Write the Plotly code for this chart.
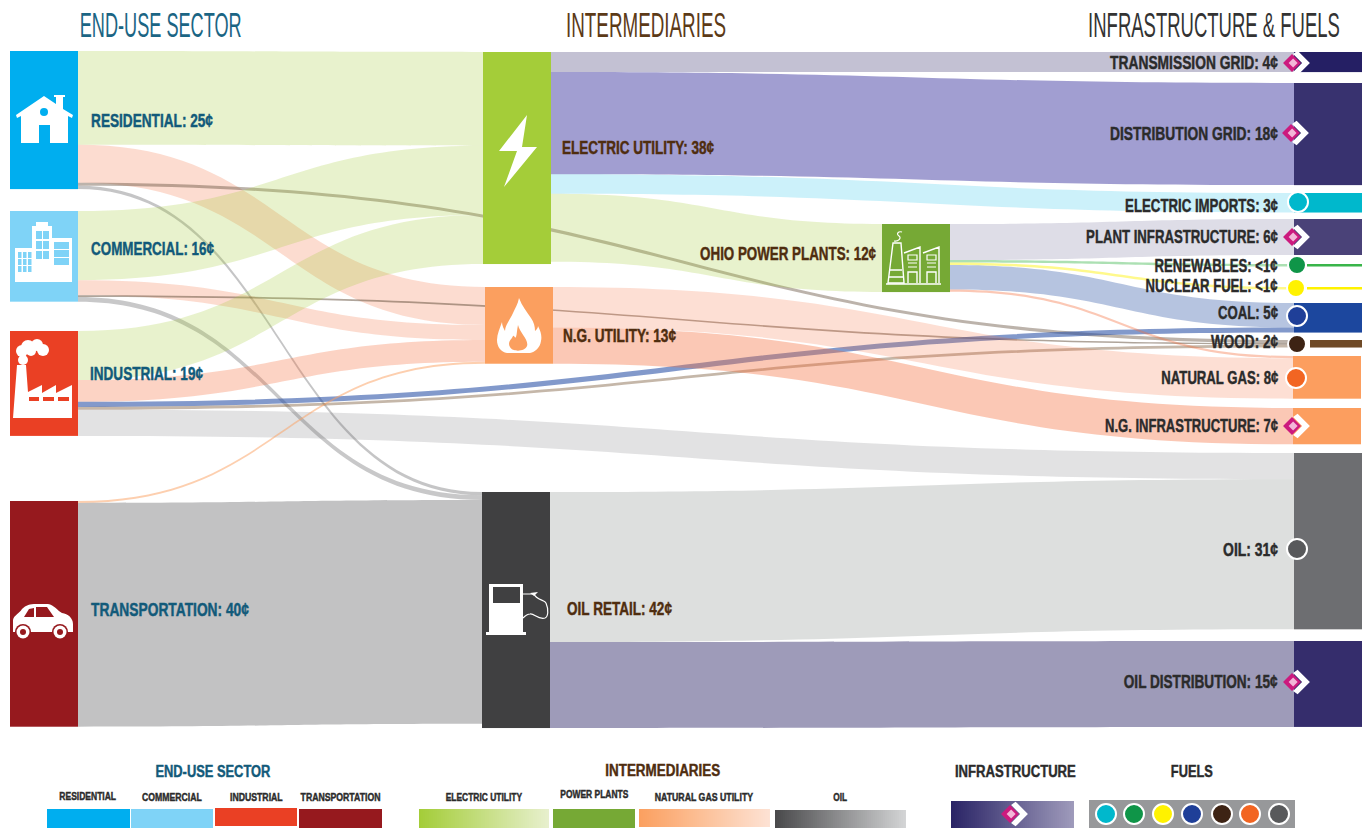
import re
import json
import plotly.graph_objects as go

W, H = 1369, 828
KY = 5.58            # pixels per cent
THICK = 68

node_names = ["Residential", "Commercial", "Industrial", "Transportation",
              "Electric Utility", "N.G. Utility", "Oil Retail", "Ohio Power Plants",
              "Transmission Grid", "Distribution Grid", "Electric Imports", "Plant Infrastructure",
              "Renewables", "Nuclear Fuel", "Coal", "Wood", "Natural Gas", "N.G. Infrastructure",
              "Oil", "Oil Distribution"]
node_colors = ["#00aeef", "#7fd3f7", "#ea4024", "#96191e",
               "#a4cd39", "#fb9f5f", "#404041", "#76a935",
               "#251f64", "#38326f", "#00b8cc", "#4a4278",
               "#39b54a", "#fff200", "#1c479e", "#6f4a27", "#fc9e5f", "#fc9e5f",
               "#6d6e71", "#352d6c"]
node_left = [10, 10, 10, 10, 483, 485, 482, 882,
             1294, 1294, 1294, 1294, 1294, 1294, 1294, 1294, 1293, 1293, 1294, 1294]
node_top = [51, 211, 331, 501, 52, 287, 492, 224,
            52, 83, 193, 219, 264, 287, 303, 340, 356, 408, 453, 641]

GREEN = "rgba(164,205,57,0.25)"
RED = "rgba(244,110,60,0.24)"
link_source = ["Residential", "Residential", "Residential", "Residential",
               "Commercial", "Commercial", "Commercial", "Commercial",
               "Industrial", "Industrial", "Industrial", "Industrial", "Industrial",
               "Transportation", "Transportation",
               "Electric Utility", "Electric Utility", "Electric Utility", "Electric Utility",
               "Ohio Power Plants", "Ohio Power Plants", "Ohio Power Plants", "Ohio Power Plants", "Ohio Power Plants",
               "N.G. Utility", "N.G. Utility", "Oil Retail", "Oil Retail"]
link_target = ["Electric Utility", "N.G. Utility", "Wood", "Oil Retail",
               "Electric Utility", "N.G. Utility", "Wood", "Oil Retail",
               "Electric Utility", "N.G. Utility", "Coal", "Wood", "Oil",
               "N.G. Utility", "Oil Retail",
               "Transmission Grid", "Distribution Grid", "Electric Imports", "Ohio Power Plants",
               "Plant Infrastructure", "Renewables", "Nuclear Fuel", "Coal", "Natural Gas",
               "Natural Gas", "N.G. Infrastructure", "Oil", "Oil Distribution"]
link_value = [16.8, 6.8, 0.55, 0.6,
              12.4, 2.7, 0.3, 0.85,
              8.8, 3.9, 0.9, 0.5, 4.7,
              0.35, 40.1,
              3.6, 18.3, 3.5, 12.2,
              6.45, 0.45, 0.45, 4.4, 0.4,
              7.25, 6.5, 26.9, 15.4]
link_colors = [GREEN, RED, "rgba(95,75,55,0.42)", "rgba(110,110,113,0.4)",
               GREEN, RED, "rgba(95,75,55,0.5)", "rgba(110,110,113,0.38)",
               GREEN, "rgba(244,110,60,0.3)", "rgba(40,80,165,0.58)", "rgba(110,75,40,0.4)", "rgba(109,110,113,0.2)",
               "rgba(251,159,95,0.5)", "rgba(109,110,113,0.42)",
               "rgba(74,66,120,0.33)", "rgba(40,35,150,0.44)", "rgba(0,184,230,0.2)", GREEN,
               "rgba(74,66,120,0.18)", "rgba(57,181,74,0.42)", "rgba(255,242,0,0.45)", "rgba(28,71,158,0.32)", "rgba(244,110,60,0.38)",
               "rgba(244,110,60,0.22)", "rgba(244,110,60,0.38)", "rgba(109,115,113,0.23)", "rgba(53,45,108,0.48)"]

labels_end = ["RESIDENTIAL: 25¢", "COMMERCIAL: 16¢", "INDUSTRIAL: 19¢", "TRANSPORTATION: 40¢"]
labels_mid = ["ELECTRIC UTILITY: 38¢", "N.G. UTILITY: 13¢", "OIL RETAIL: 42¢", "OHIO POWER PLANTS: 12¢"]
labels_right = ["TRANSMISSION GRID: 4¢", "DISTRIBUTION GRID: 18¢", "ELECTRIC IMPORTS: 3¢", "PLANT INFRASTRUCTURE: 6¢",
                "RENEWABLES: <1¢", "NUCLEAR FUEL: <1¢", "COAL: 5¢", "WOOD: 2¢", "NATURAL GAS: 8¢",
                "N.G. INFRASTRUCTURE: 7¢", "OIL: 31¢", "OIL DISTRIBUTION: 15¢"]
headers = ["END-USE SECTOR", "INTERMEDIARIES", "INFRASTRUCTURE & FUELS"]
legend_heads = ["END-USE SECTOR", "INTERMEDIARIES", "INFRASTRUCTURE", "FUELS"]
legend_items = ["RESIDENTIAL", "COMMERCIAL", "INDUSTRIAL", "TRANSPORTATION", "ELECTRIC UTILITY",
                "POWER PLANTS", "NATURAL GAS UTILITY", "OIL"]
fuel_colors = ["#00b8cc", "#0f9548", "#fff200", "#1f3f98", "#3d2314", "#f26522", "#58595b"]

# ---------- sankey geometry ----------
idx = {n: i for i, n in enumerate(node_names)}
inflow = [0.0] * len(node_names)
outflow = [0.0] * len(node_names)
for s, t, v in zip(link_source, link_target, link_value):
    outflow[idx[s]] += v
    inflow[idx[t]] += v
totals = [max(a, b) for a, b in zip(inflow, outflow)]
right = [i for i in range(len(node_names)) if outflow[i] == 0]
pad = (H - KY * sum(totals[i] for i in right)) / (len(right) - 1)
node_x = [(l + THICK / 2) / W for l in node_left]
node_y = [(t + totals[i] * KY / 2) / H for i, t in enumerate(node_top)]

sankey = go.Sankey(
    arrangement="fixed",
    domain=dict(x=[0, 1], y=[0, 1]),
    node=dict(label=[""] * len(node_names), color=node_colors, x=node_x, y=node_y,
              thickness=THICK, pad=pad, line=dict(width=0), hoverinfo="none"),
    link=dict(source=[idx[s] for s in link_source], target=[idx[t] for t in link_target],
              value=link_value, color=link_colors, hoverinfo="none"),
)

# ---------- decoration helpers (pixel space -> paper space) ----------
shapes = []


def conv(path):
    toks = re.findall(r"[A-Za-z]|-?\d+\.?\d*", path)
    out, k = [], 0
    for tok in toks:
        if tok.isalpha():
            out.append(tok)
            k = 0
        else:
            v = float(tok)
            out.append(f"{v / W:.5f}" if k % 2 == 0 else f"{1 - v / H:.5f}")
            k += 1
    return " ".join(out)


def path(d, fill=None, line=None, lw=0):
    shapes.append(dict(type="path", xref="paper", yref="paper", path=conv(d),
                       fillcolor=fill or "rgba(0,0,0,0)",
                       line=dict(color=line or "rgba(0,0,0,0)", width=lw), layer="above"))


def poly(pts, fill="#ffffff"):
    path("M " + " L ".join(f"{x} {y}" for x, y in pts) + " Z", fill)


def rect(x0, y0, x1, y1, fill="#ffffff"):
    shapes.append(dict(type="rect", xref="paper", yref="paper", x0=x0 / W, x1=x1 / W,
                       y0=1 - y0 / H, y1=1 - y1 / H, fillcolor=fill, line=dict(width=0), layer="above"))


def circle(cx, cy, r, fill="#ffffff", line=None, lw=0):
    shapes.append(dict(type="circle", xref="paper", yref="paper", x0=(cx - r) / W, x1=(cx + r) / W,
                       y0=1 - (cy - r) / H, y1=1 - (cy + r) / H, fillcolor=fill,
                       line=dict(color=line or "rgba(0,0,0,0)", width=lw), layer="above"))


def lerp(c0, c1, t):
    a = [int(c0[i:i + 2], 16) for i in (1, 3, 5)]
    b = [int(c1[i:i + 2], 16) for i in (1, 3, 5)]
    return "rgb(" + ",".join(str(round(p + (q - p) * t)) for p, q in zip(a, b)) + ")"


def gradient(x0, y0, x1, y1, c0, c1):
    for x in range(x0, x1, 2):
        rect(x, y0, min(x + 2, x1), y1, lerp(c0, c1, (x - x0) / (x1 - x0)))


def diamond(cx, cy, s=1.12):
    poly([(cx - 8 * s, cy), (cx, cy - 8 * s), (cx + 8 * s, cy), (cx, cy + 8 * s)], "#cc1a7e")
    poly([(cx + 1 * s, cy - 4 * s), (cx + 5 * s, cy), (cx + 1 * s, cy + 4 * s), (cx - 3 * s, cy)], "#f3b6d8")
    poly([(cx + 5 * s, cy - 11 * s), (cx + 16 * s, cy), (cx + 5 * s, cy + 11 * s), (cx + 1 * s, cy + 8 * s),
          (cx + 9 * s, cy), (cx + 1 * s, cy - 8 * s)], "#ffffff")


# house
poly([(44, 96), (56, 104), (56, 97), (54, 97), (54, 95), (65, 95), (65, 97), (63, 97), (63, 109), (73, 115), (72, 118),
      (68, 116), (68, 143), (50, 143), (50, 125), (39, 125), (39, 143), (21, 143), (21, 116), (17, 118), (16, 115)])
circle(44, 112, 4, "#00aeef")
# commercial buildings
rect(32, 226, 52, 282); rect(36, 222, 48, 226); rect(15, 248, 32, 282); rect(52, 238, 72, 282)
for y in (231, 241, 251):
    rect(36, y, 42, y + 8, "#7fd3f7"); rect(43, y, 49, y + 8, "#7fd3f7")
for y in (252, 259, 266):
    for x in (18, 23, 28):
        rect(x, y, x + 3.5, y + 6, "#7fd3f7")
for y in (242, 250, 258):
    rect(54, y, 69, y + 7, "#7fd3f7")
# factory
poly([(17, 365), (26, 365), (28, 392), (42, 385), (42, 393), (56, 385), (56, 393), (72, 385), (72, 418), (13, 418)])
for x0, x1 in ((29, 39), (43, 54), (58, 69)):
    rect(x0, 397, x1, 401, "#ea4024")
for cx, cy, r in ((23, 360, 5), (22, 351, 6), (28, 347, 7), (37, 345, 6), (43, 350, 6), (31, 351, 5)):
    circle(cx, cy, r)
# car
path("M 13 632 L 13 620 C 14 615 19 614 22 609 C 26 605 30 604 36 604 L 48 604 C 54 605 58 611 62 613 "
     "C 68 614 73 618 73 624 L 73 632 Z", "#ffffff")
poly([(24, 617), (29, 609), (34, 608), (34, 617)], "#96191e")
poly([(36, 607), (47, 607), (54, 617), (36, 617)], "#96191e")
for cx in (23, 60):
    circle(cx, 632, 8, "#96191e"); circle(cx, 632, 6.5); circle(cx, 632, 3, "#96191e")
# bolt
poly([(527, 115), (499, 151), (517, 151), (504, 187), (537, 147), (522, 147)])
# flame
path("M 519 298 C 522 306 527 312 531 318 C 534 322 535 327 535 331 C 537 329 538 328 538 326 C 541 332 542 336 541 341 "
     "C 540 348 535 352 530 353 L 507 353 C 501 352 497 347 497 340 C 497 334 500 328 502 322 C 502 326 504 329 505 331 "
     "C 505 325 510 320 513 313 C 515 308 518 304 519 298 Z", "#ffffff")
path("M 518 325 C 520 333 529 340 527 346 C 525 352 512 352 510 347 C 507 342 512 339 513 336 C 514 335 515 339 516 337 "
     "C 517 334 517 329 518 325 Z", "#fb9f5f")
# pump
rect(489, 584, 523, 632); rect(486, 632, 526, 635); rect(493, 587, 520, 603, "#404041")
path("M 523 594 L 534 594 C 536 600 545 600 546 603 C 549 610 548 617 545 618 C 538 620 534 613 530 614 C 527 614 525 616 523 618",
     None, "#ffffff", 1.2)
poly([(530, 593), (538, 592), (534, 596)])
# power plant outline
WL = "#ffffff"
path("M 893 243 L 901 243 L 904 283 L 888 283 Z", None, WL, 1.4)
path("M 894 241 C 898 242 902 238 899 236 C 896 234 898 231 902 232", None, WL, 1.2)
path("M 904 253 L 920 247 L 920 283 M 923 253 L 939 247 L 939 283 M 886 284 L 941 284 M 890 270 L 902 270 M 889 277 L 903 277",
     None, WL, 1.4)
for x0, x1 in ((908, 917), (927, 936)):
    path(f"M {x0} 255 L {x1} 255 L {x1} 260 L {x0} 260 Z M {x0} 263 L {x1} 263 M {x0} 267 L {x1} 267", None, WL, 1.2)
    path(f"M {x0} 283 L {x0} 272 L {x1} 272 L {x1} 283", None, WL, 1.4)
# gaps behind the thin-fuel markers
rect(1294, 262, 1307, 268); rect(1294, 285, 1307, 291); rect(1294, 339, 1310, 350)
# fuel markers
for cx, cy, r, c in ((1298, 202, 10, "#00b8cc"), (1297, 265, 9, "#0f9548"), (1296, 288, 9, "#fff200"),
                     (1297, 316, 10, "#1f3f98"), (1297, 344, 9, "#3d2314"), (1296, 378, 10, "#f26522"),
                     (1297, 549, 10, "#58595b")):
    circle(cx, cy, r, c, "#ffffff", 2)
# infrastructure markers
for cx, cy in ((1292, 63), (1291, 133), (1292, 237), (1292, 426), (1292, 682)):
    diamond(cx, cy)
# legend swatches
for x0, y0, x1, y1, c in ((47, 809, 130, 828, "#00aeef"), (131, 809, 213, 828, "#7fd3f7"),
                          (215, 808, 297, 826, "#ea4024"), (299, 809, 382, 828, "#96191e"),
                          (553, 809, 635, 828, "#76a935")):
    rect(x0, y0, x1, y1, c)
gradient(419, 809, 549, 828, "#a4cd39", "#e8f0cf")
gradient(639, 809, 770, 827, "#fba060", "#fde3d5")
gradient(775, 810, 906, 828, "#4a4a4c", "#d5d6d7")
gradient(951, 801, 1074, 828, "#2a2466", "#a09cbc")
diamond(1010, 814)
rect(1089, 800, 1295, 828, "#97989a")
for cx, c in zip((1106, 1134, 1163, 1192, 1222, 1250, 1279), fuel_colors):
    circle(cx, 814, 10, c, "#ffffff", 2)

# ---------- text ----------
FONT = "Liberation Sans"
anns = []
squeeze = []    # on-screen width wanted for each text; the page script condenses the glyphs to it


def text(s, x, y, anchor, size, color, width, bold=True):
    anns.append(dict(text=f"<b>{s}</b>" if bold else s, x=x / W, y=1 - y / H, xref="paper", yref="paper",
                     xanchor=anchor, yanchor="middle", showarrow=False, borderpad=0, borderwidth=0,
                     font=dict(family=FONT, size=size, color=color)))
    squeeze.append(width)


TEAL, BROWN, DARK = "#125a7a", "#4f2d0f", "#2b2b2b"
for s, x, y, w in zip(labels_end, (91, 91, 90, 91), (121, 249, 374, 610), (122, 123, 113, 158)):
    text(s, x, y, "left", 18, TEAL, w)
for s, x, y, w, a in zip(labels_mid, (562, 563, 567, 876), (148, 336, 609, 254), (152, 113, 105, 176),
                         ("left", "left", "left", "right")):
    text(s, x, y, a, 18, BROWN, w)
for s, y, w in zip(labels_right, (63, 134, 206, 237, 266, 286, 313, 342, 378, 426, 550, 682),
                   (168, 168, 153, 192, 123, 132, 60, 67, 117, 173, 55, 154)):
    text(s, 1278, y, "right", 18, DARK, w)
for s, x, c, w in zip(headers, (160, 646, 1214), ("#1b6584", "#5c3a17", "#333333"), (162, 160, 252)):
    text(s, x, 24, "center", 36, c, w, bold=False)
for s, x, y, c, w in zip(legend_heads, (213, 662, 1015, 1192), (771, 770, 771, 771),
                         (TEAL, BROWN, DARK, DARK), (115, 115, 121, 42)):
    text(s, x, y, "center", 17, c, w)
for s, x, y, w in zip(legend_items, (88, 172, 256, 340, 484, 594, 704, 840),
                      (796, 797, 797, 797, 797, 794, 797, 797), (57, 60, 53, 80, 77, 68, 99, 14)):
    text(s, x, y, "center", 11, DARK, w)

fig = go.Figure(sankey)
fig.update_layout(width=W, height=H, margin=dict(l=0, r=0, t=0, b=0), paper_bgcolor="#ffffff",
                  shapes=shapes, annotations=anns, font=dict(family=FONT))

page_script = """
document.body.style.margin = '0';
document.documentElement.style.overflow = 'hidden';
var widths = %s;
var gd = document.querySelector('.plotly-graph-div');
document.querySelectorAll('.annotation').forEach(function (g) {
  var i = +g.getAttribute('data-index');
  var t = g.querySelector('text');
  var b = t.getBBox();
  var a = gd.layout.annotations[i];
  var f = a.xanchor === 'right' ? b.x + b.width : a.xanchor === 'left' ? b.x : b.x + b.width / 2;
  var s = widths[i] / b.width;
  var old = t.getAttribute('transform') || '';
  t.setAttribute('transform', old + ' translate(' + f + ' 0) scale(' + s + ' 1) translate(' + (-f) + ' 0)');
  if (a.text.indexOf('<b>') === 0) {
    t.style.stroke = a.font.color;
    t.style.strokeWidth = '0.45px';
  }
});
""" % json.dumps(squeeze)
fig.write_html("out.html", config=dict(displayModeBar=False), post_script=page_script)
